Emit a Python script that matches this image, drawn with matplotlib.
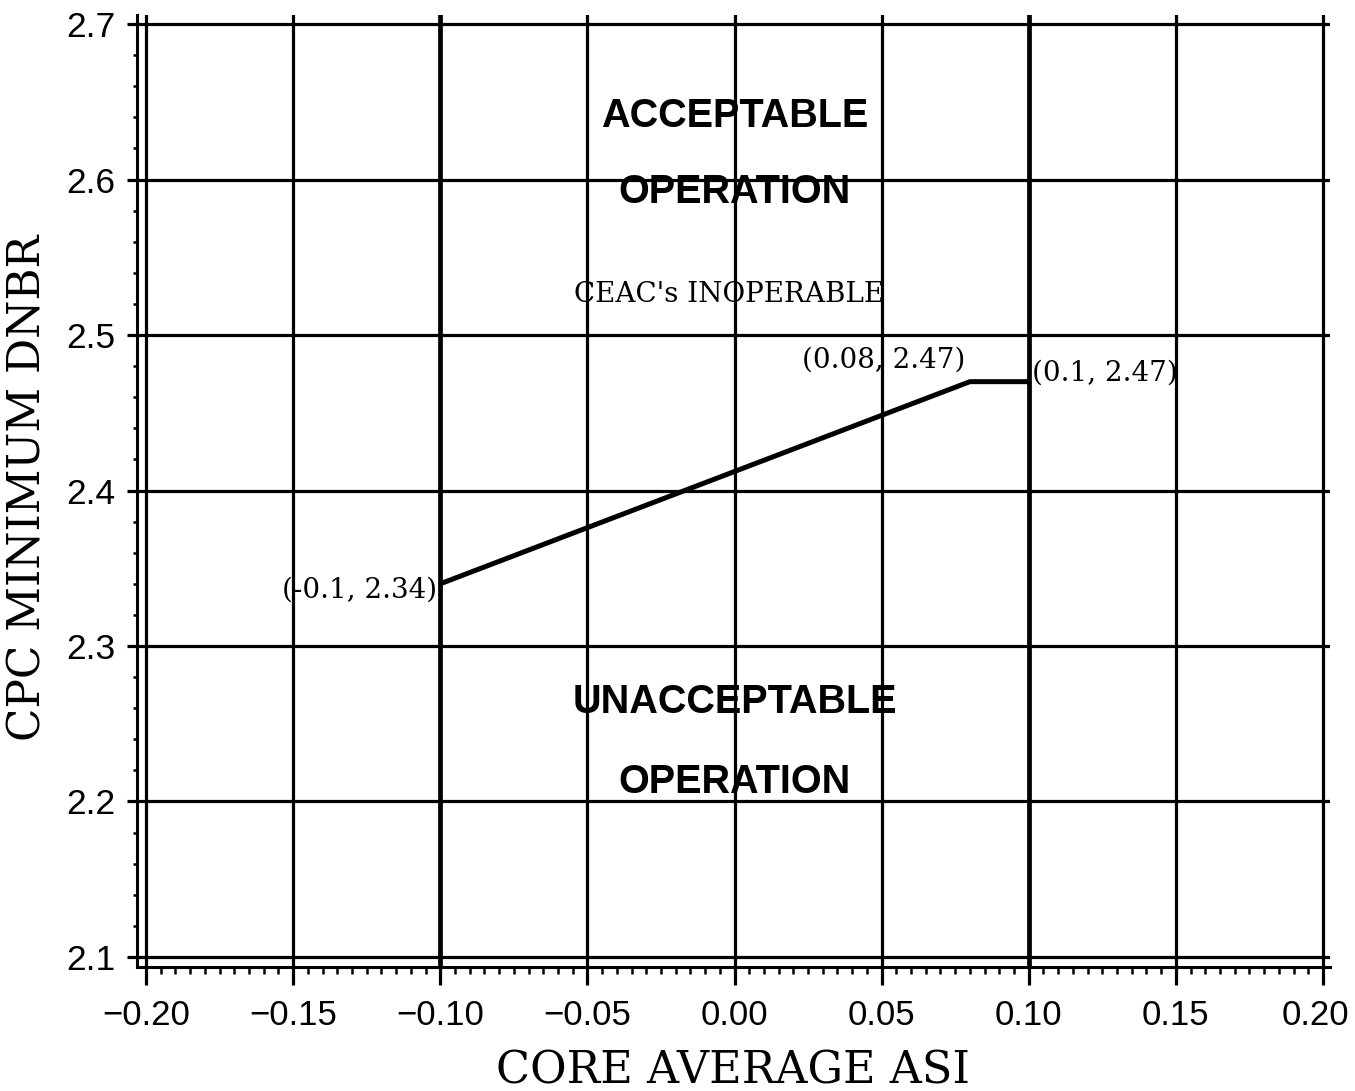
import matplotlib
matplotlib.use("Agg")
import matplotlib.pyplot as plt
import matplotlib.transforms as mtransforms
from matplotlib.ticker import FixedLocator, MultipleLocator

# ---- data ----
asi = [-0.10, 0.08, 0.10]
dnbr = [2.34, 2.47, 2.47]
point_labels = ["(-0.1, 2.34)", "(0.08, 2.47)", "(0.1, 2.47)"]
boundary_x = [-0.10, 0.10]
x_ticks = [-0.20, -0.15, -0.10, -0.05, 0.00, 0.05, 0.10, 0.15, 0.20]
x_tick_labels = ["\u22120.20", "\u22120.15", "\u22120.10", "\u22120.05", "0.00",
                 "0.05", "0.10", "0.15", "0.20"]
y_ticks = [2.1, 2.2, 2.3, 2.4, 2.5, 2.6, 2.7]
y_tick_labels = ["2.1", "2.2", "2.3", "2.4", "2.5", "2.6", "2.7"]
x_label = "CORE AVERAGE ASI"
y_label = "CPC MINIMUM DNBR"

fig = plt.figure(figsize=(13.55, 10.91), dpi=100)
ax = fig.add_axes([0.10111, 0.11366, 0.88044, 0.87259])

ax.set_xlim(-0.20306, 0.20238)
ax.set_ylim(2.09357, 2.70579)

# grid
ax.xaxis.set_major_locator(FixedLocator(x_ticks))
ax.yaxis.set_major_locator(FixedLocator(y_ticks))
ax.xaxis.set_minor_locator(MultipleLocator(0.005))
ax.yaxis.set_minor_locator(MultipleLocator(0.02))
ax.set_xticklabels(x_tick_labels)
ax.set_yticklabels(y_tick_labels)
ax.grid(True, which="major", color="black", linewidth=2.3, zorder=1)
ax.set_axisbelow(True)

for xb in boundary_x:
    ax.axvline(xb, color="black", linewidth=3.4, zorder=2)

ax.plot(asi, dnbr, color="black", linewidth=3.6, zorder=3, solid_capstyle="butt")

for s in ["top", "right"]:
    ax.spines[s].set_visible(False)
for s in ["left", "bottom"]:
    ax.spines[s].set_linewidth(2.2)

tickfont = "Liberation Sans"
ax.tick_params(axis="x", which="major", direction="out", length=13, width=2.3,
               pad=10, labelsize=25)
ax.tick_params(axis="x", which="minor", direction="out", length=5, width=1.8)
ax.tick_params(axis="y", which="major", direction="out", length=7.5, width=2.3,
               pad=8, labelsize=25.5)
ax.tick_params(axis="y", which="minor", direction="out", length=3, width=1.8)
for lab in ax.get_xticklabels() + ax.get_yticklabels():
    lab.set_fontfamily(tickfont)
# nudge the last x tick label slightly left so it stays inside the figure
last = ax.get_xticklabels()[-1]
last.set_transform(last.get_transform() +
                   mtransforms.ScaledTranslation(-8 / 100, 0, fig.dpi_scale_trans))

# region texts
bold = dict(fontfamily="Liberation Sans", fontweight="bold", fontsize=28.5,
            ha="center", va="baseline", zorder=4)
ax.text(0.0, 2.6338, "ACCEPTABLE", **bold)
ax.text(0.0, 2.5849, "OPERATION", **bold)
ax.text(0.0, 2.2569, "UNACCEPTABLE", **bold)
ax.text(0.0, 2.2055, "OPERATION", **bold)
ax.text(-0.002, 2.5212, "CEAC's INOPERABLE", fontfamily="DejaVu Serif",
        fontsize=20, ha="center", va="baseline", zorder=4)

# point labels
pf = dict(fontfamily="DejaVu Serif", fontsize=20, va="baseline", zorder=4)
ax.text(-0.1011, 2.3309, point_labels[0], ha="right", **pf)
ax.text(0.0783, 2.4788, point_labels[1], ha="right", **pf)
ax.text(0.1012, 2.4705, point_labels[2], ha="left", **pf)

# axis labels
fig.text(0.5410, 1 - 1083 / 1091, x_label, fontfamily="DejaVu Serif", fontsize=32,
         ha="center", va="baseline")
fig.text(28 / 1355, 0.553, y_label, fontfamily="DejaVu Serif", fontsize=31.5,
         ha="center", va="center", rotation=90)

fig.savefig("out.png", dpi=100)
